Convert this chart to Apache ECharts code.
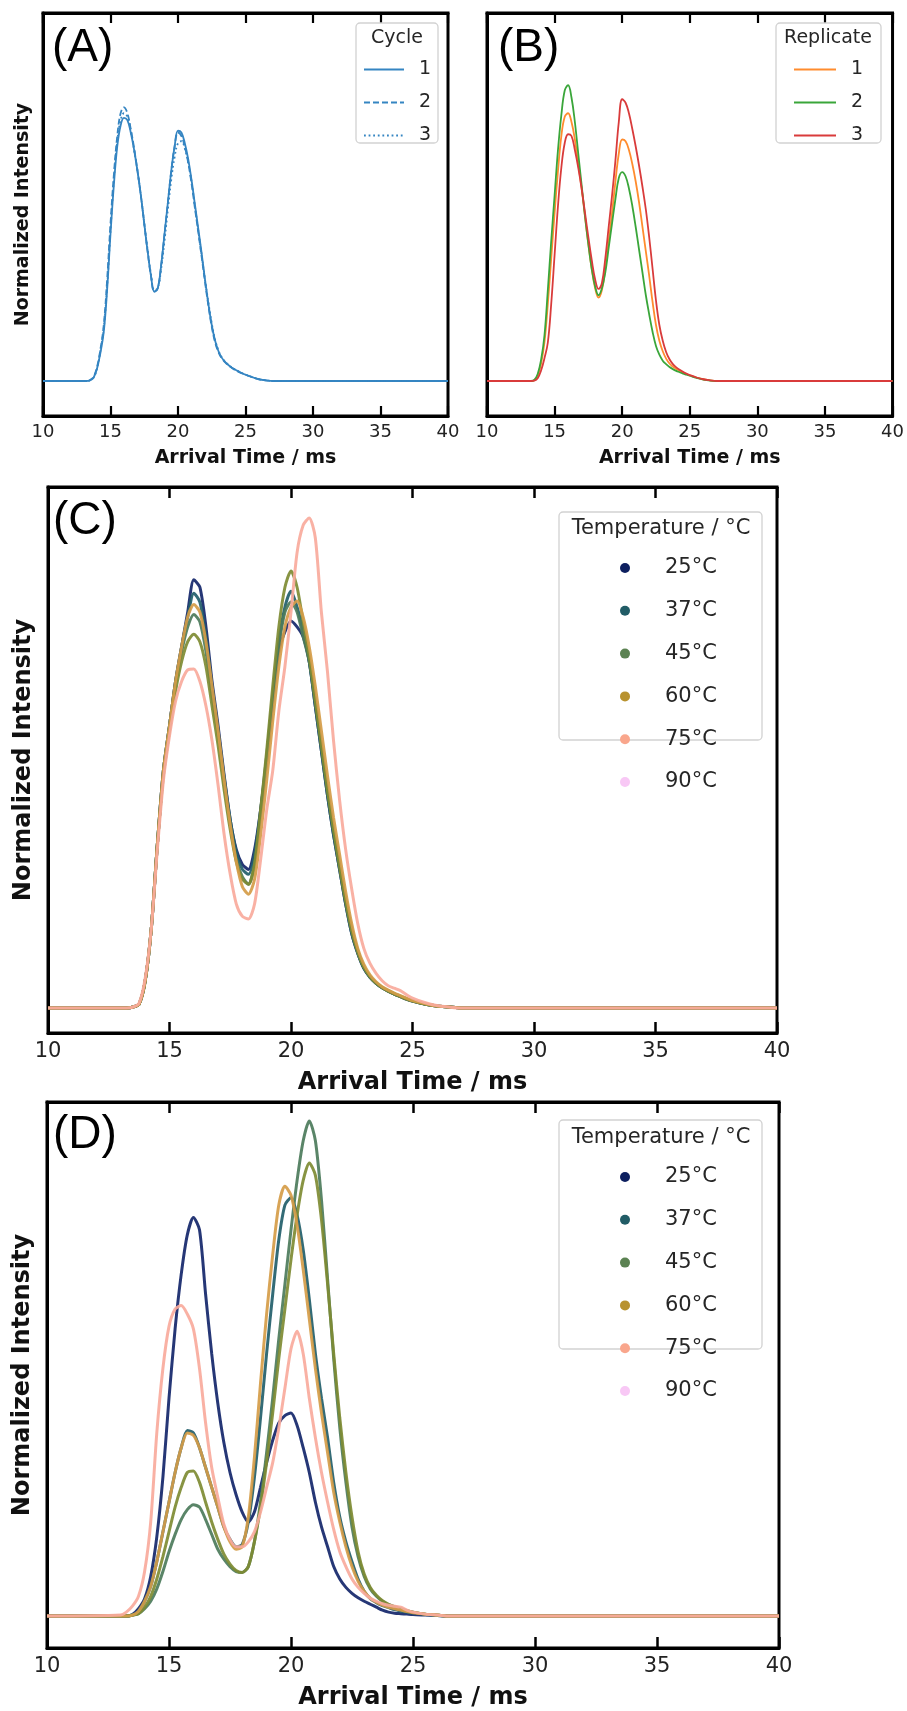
<!DOCTYPE html>
<html><head><meta charset="utf-8">
<script src="https://cdn.jsdelivr.net/npm/echarts@6/dist/echarts.min.js"></script>
<style>html,body{margin:0;padding:0;background:#fff}#c{width:907px;height:1711px}</style>
</head><body><div id="c"></div>
<script>
// Arrival time sample positions (ms)
const X = [10,13,13.25,13.5,13.75,14,14.25,14.5,14.75,15,15.25,15.5,15.75,16,16.25,16.5,16.75,17,17.25,17.5,17.75,18,18.25,18.5,18.75,19,19.25,19.5,19.75,20,20.25,20.5,20.75,21,21.25,21.5,21.75,22,22.25,22.5,22.75,23,23.25,23.5,23.75,24,24.25,24.5,24.75,25,25.5,26,26.5,27,40];
const xTickLabels = [10,15,20,25,30,35,40];
const cycleLabels = ['1','2','3'];
const replicateLabels = ['1','2','3'];
const tempLabels = ['25°C','37°C','45°C','60°C','75°C','90°C'];

// Panel A: cycles
const A1 = [0, 0,0,0.002,0.01, 0.035,0.08,0.14,0.26, 0.42,0.56,0.67,0.73, 0.752,0.745,0.71,0.66, 0.60,0.53,0.45,0.37, 0.30,0.255,0.265,0.33, 0.42,0.51,0.60,0.67, 0.715,0.71,0.68,0.635, 0.575,0.505,0.435,0.365, 0.29,0.22,0.16,0.115, 0.085,0.066,0.054,0.045, 0.038,0.032,0.027,0.022, 0.018,0.011,0.005,0.002,0, 0];
const A2 = [0, 0,0,0.003,0.012, 0.04,0.09,0.16,0.29, 0.45,0.59,0.70,0.765, 0.782,0.765,0.72,0.665, 0.60,0.53,0.45,0.37, 0.30,0.255,0.265,0.33, 0.42,0.51,0.60,0.67, 0.71,0.70,0.67,0.625, 0.565,0.495,0.425,0.355, 0.283,0.215,0.155,0.11, 0.082,0.064,0.053,0.044, 0.037,0.031,0.026,0.022, 0.018,0.011,0.005,0.002,0, 0];
const A3 = [0, 0,0,0.002,0.01, 0.035,0.085,0.15,0.27, 0.43,0.575,0.685,0.745, 0.765,0.755,0.715,0.66, 0.60,0.53,0.45,0.375, 0.305,0.26,0.265,0.32, 0.40,0.49,0.575,0.64, 0.68,0.685,0.665,0.625, 0.57,0.50,0.43,0.36, 0.29,0.225,0.165,0.118, 0.087,0.067,0.055,0.046, 0.038,0.032,0.027,0.022, 0.018,0.011,0.005,0.002,0, 0];

// Panel B: replicates
const B1 = [0, 0,0,0.002,0.015, 0.05,0.11,0.22,0.35, 0.48,0.60,0.70,0.755, 0.765,0.74,0.69,0.62, 0.55,0.47,0.39,0.32, 0.265,0.238,0.26,0.32, 0.40,0.48,0.57,0.65, 0.69,0.685,0.66,0.62, 0.57,0.51,0.44,0.37, 0.30,0.225,0.16,0.115, 0.085,0.064,0.05,0.041, 0.034,0.029,0.024,0.02, 0.016,0.01,0.005,0.002,0, 0];
const B2 = [0, 0,0,0.003,0.02, 0.06,0.13,0.26,0.40, 0.53,0.66,0.76,0.83, 0.845,0.81,0.74,0.65, 0.56,0.47,0.39,0.32, 0.27,0.245,0.265,0.31, 0.38,0.45,0.52,0.58, 0.597,0.585,0.55,0.50, 0.44,0.375,0.31,0.245, 0.19,0.14,0.10,0.075, 0.058,0.048,0.04,0.034, 0.029,0.025,0.021,0.018, 0.015,0.009,0.004,0.001,0, 0];
const B3 = [0, 0,0,0.001,0.008, 0.03,0.065,0.11,0.22, 0.36,0.50,0.61,0.68, 0.705,0.70,0.66,0.61, 0.55,0.48,0.41,0.345, 0.29,0.263,0.28,0.35, 0.44,0.53,0.63,0.74, 0.805,0.795,0.765,0.72, 0.67,0.615,0.555,0.49, 0.41,0.32,0.23,0.16, 0.115,0.083,0.062,0.048, 0.039,0.032,0.026,0.021, 0.017,0.01,0.005,0.002,0, 0];

// Panel C: temperatures
const C25 = [0, 0,0,0.002,0.008, 0.055,0.16,0.33,0.48, 0.57,0.66,0.73,0.80, 0.865,0.85,0.77,0.66, 0.57,0.47,0.38,0.32, 0.29,0.28,0.32,0.40, 0.50,0.62,0.72,0.76, 0.782,0.77,0.75,0.70, 0.61,0.52,0.43,0.35, 0.28,0.21,0.15,0.11, 0.08,0.062,0.05,0.041, 0.034,0.028,0.023,0.018, 0.014,0.008,0.004,0.002,0, 0];
const C37 = [0, 0,0,0.002,0.008, 0.055,0.16,0.33,0.48, 0.57,0.66,0.73,0.79, 0.838,0.82,0.75,0.65, 0.56,0.465,0.38,0.315, 0.28,0.27,0.31,0.40, 0.51,0.63,0.74,0.81, 0.842,0.81,0.76,0.70, 0.61,0.52,0.43,0.35, 0.28,0.21,0.15,0.11, 0.08,0.062,0.05,0.041, 0.034,0.028,0.023,0.018, 0.014,0.008,0.004,0.002,0, 0];
const C45 = [0, 0,0,0.002,0.008, 0.055,0.16,0.33,0.48, 0.57,0.655,0.72,0.77, 0.795,0.78,0.72,0.63, 0.55,0.455,0.37,0.30, 0.265,0.25,0.29,0.39, 0.50,0.62,0.73,0.80, 0.82,0.80,0.75,0.70, 0.62,0.53,0.44,0.36, 0.29,0.22,0.16,0.115, 0.083,0.064,0.051,0.042, 0.035,0.029,0.024,0.019, 0.015,0.008,0.004,0.002,0, 0];
const C60 = [0, 0,0,0.002,0.008, 0.055,0.16,0.33,0.47, 0.56,0.64,0.70,0.74, 0.755,0.74,0.69,0.61, 0.53,0.44,0.36,0.295, 0.26,0.25,0.29,0.40, 0.52,0.65,0.77,0.85, 0.883,0.85,0.78,0.71, 0.62,0.53,0.44,0.36, 0.285,0.215,0.155,0.112, 0.082,0.063,0.05,0.041, 0.034,0.028,0.023,0.018, 0.014,0.008,0.004,0.002,0, 0];
const C75 = [0, 0,0,0.002,0.008, 0.055,0.16,0.33,0.48, 0.57,0.66,0.73,0.79, 0.815,0.80,0.74,0.65, 0.56,0.46,0.37,0.295, 0.245,0.23,0.26,0.35, 0.46,0.58,0.69,0.77, 0.81,0.822,0.79,0.73, 0.65,0.56,0.47,0.385, 0.31,0.235,0.17,0.12, 0.088,0.067,0.053,0.043, 0.036,0.03,0.025,0.02, 0.015,0.009,0.004,0.002,0, 0];
const C90 = [0, 0,0,0.002,0.01, 0.06,0.16,0.32,0.46, 0.55,0.62,0.66,0.683, 0.685,0.66,0.61,0.54, 0.45,0.35,0.27,0.21, 0.185,0.18,0.21,0.30, 0.40,0.48,0.60,0.69, 0.80,0.92,0.975,0.99, 0.95,0.80,0.68,0.54, 0.42,0.32,0.24,0.17, 0.12,0.09,0.07,0.055, 0.045,0.04,0.035,0.027, 0.02,0.011,0.005,0.002,0, 0];

// Panel D: temperatures
const D25 = [0, 0,0,0.003,0.015, 0.035,0.08,0.16,0.28, 0.44,0.58,0.69,0.77, 0.805,0.78,0.65,0.53, 0.43,0.35,0.29,0.245, 0.21,0.19,0.21,0.26, 0.31,0.355,0.39,0.405, 0.41,0.385,0.34,0.29, 0.23,0.18,0.14,0.10, 0.075,0.058,0.046,0.037, 0.03,0.024,0.018,0.012, 0.008,0.006,0.005,0.004, 0.003,0.002,0.001,0,0, 0];
const D37 = [0, 0,0,0.002,0.01, 0.03,0.06,0.11,0.17, 0.23,0.29,0.34,0.375, 0.37,0.34,0.30,0.26, 0.22,0.18,0.155,0.14, 0.145,0.19,0.28,0.40, 0.53,0.65,0.76,0.83, 0.845,0.81,0.74,0.64, 0.53,0.44,0.36,0.27, 0.20,0.15,0.11,0.075, 0.05,0.035,0.027,0.021, 0.017,0.013,0.01,0.008, 0.006,0.003,0.001,0,0, 0];
const D45 = [0, 0,0,0.002,0.005, 0.015,0.03,0.055,0.09, 0.13,0.165,0.195,0.215, 0.225,0.22,0.195,0.165, 0.135,0.115,0.10,0.09, 0.088,0.10,0.15,0.23, 0.33,0.44,0.56,0.67, 0.78,0.88,0.96,1.0, 0.96,0.84,0.68,0.52, 0.38,0.27,0.18,0.12, 0.08,0.055,0.04,0.03, 0.023,0.018,0.014,0.011, 0.008,0.004,0.002,0,0, 0];
const D60 = [0, 0,0,0.002,0.005, 0.018,0.04,0.075,0.12, 0.17,0.22,0.26,0.29, 0.293,0.27,0.23,0.19, 0.155,0.125,0.105,0.092, 0.088,0.10,0.15,0.22, 0.31,0.41,0.52,0.62, 0.72,0.81,0.88,0.915, 0.89,0.80,0.67,0.53, 0.40,0.29,0.20,0.13, 0.085,0.058,0.042,0.031, 0.024,0.019,0.015,0.011, 0.008,0.004,0.002,0,0, 0];
const D75 = [0, 0,0,0.002,0.01, 0.03,0.06,0.11,0.17, 0.23,0.29,0.34,0.37, 0.365,0.34,0.30,0.26, 0.22,0.18,0.15,0.135, 0.14,0.20,0.32,0.47, 0.61,0.73,0.83,0.868, 0.85,0.79,0.70,0.60, 0.50,0.41,0.33,0.25, 0.19,0.14,0.10,0.07, 0.05,0.036,0.028,0.022, 0.018,0.015,0.012,0.009, 0.007,0.004,0.002,0,0, 0];
const D90 = [0, 0.002,0.008,0.02,0.04, 0.09,0.19,0.37,0.50, 0.585,0.62,0.627,0.61, 0.58,0.50,0.39,0.30, 0.24,0.185,0.155,0.14, 0.14,0.15,0.17,0.21, 0.26,0.31,0.38,0.46, 0.54,0.575,0.53,0.44, 0.36,0.29,0.23,0.175, 0.13,0.10,0.075,0.058, 0.046,0.036,0.03,0.025, 0.022,0.02,0.018,0.012, 0.008,0.004,0.002,0,0, 0];

const cycleData = [A1, A2, A3];
const replicateData = [B1, B2, B3];
const tempDataC = [C25, C37, C45, C60, C75, C90];
const tempDataD = [D25, D37, D45, D60, D75, D90];

const cycleColor = '#3585c2';
const cycleDash = ['solid', [6, 3], [1.8, 2.8]];
const replicateColors = ['#ff8c2e', '#3aa63a', '#d93b3b'];
const tempLineColors = ['#13266a', '#225e6a', '#4c7b5b', '#7e8b33', '#d59c48', '#f8aa9c'];
const tempLegendColors = ['#0d1f5f', '#215c66', '#5b8252', '#b8922f', '#f9a68c', '#f8c8f5'];

const FONT = 'DejaVu Sans';
const grids = [
  {left: 43, top: 13, width: 405, height: 403},
  {left: 487, top: 13, width: 406, height: 403},
  {left: 48, top: 487, width: 729, height: 546},
  {left: 47, top: 1102, width: 732, height: 548}
].map(g => Object.assign({show: true, borderColor: '#000', borderWidth: 3, backgroundColor: 'transparent'}, g));

const yRange = [[-0.1, 1.0514], [-0.1, 1.0514], [-0.0505, 1.0525], [-0.0644, 1.0382]];
const big = [false, false, true, true];

const xAxis = [];
const yAxis = [];
grids.forEach((g, i) => {
  const b = big[i];
  const mkTick = () => ({show: true, inside: true, length: b ? 11 : 10, lineStyle: {color: '#000', width: b ? 2.5 : 2.2}});
  const mkLine = () => ({show: true, onZero: false, lineStyle: {color: '#000', width: 3}});
  xAxis.push({
    gridIndex: i, type: 'value', min: xTickLabels[0], max: xTickLabels[xTickLabels.length - 1], interval: 5,
    position: 'bottom',
    axisLine: mkLine(),
    axisTick: mkTick(),
    axisLabel: {fontSize: b ? 21 : 18, color: '#222', margin: b ? 8 : 7, fontFamily: FONT},
    splitLine: {show: false},
    name: 'Arrival Time / ms', nameLocation: 'middle', nameGap: b ? 38 : 33,
    nameTextStyle: {fontSize: b ? 24 : 19, fontWeight: 'bold', fontFamily: FONT, color: '#111'}
  });
  xAxis.push({
    gridIndex: i, type: 'value', min: xTickLabels[0], max: xTickLabels[xTickLabels.length - 1], interval: 5,
    position: 'top',
    axisLine: mkLine(),
    axisTick: mkTick(),
    axisLabel: {show: false}, splitLine: {show: false}
  });
  yAxis.push({
    gridIndex: i, type: 'value', min: yRange[i][0], max: yRange[i][1], position: 'left',
    axisLine: mkLine(), axisTick: {show: false}, axisLabel: {show: false}, splitLine: {show: false},
    name: i === 1 ? '' : 'Normalized Intensity', nameLocation: 'middle', nameRotate: 90, nameGap: b ? 12 : 10,
    nameTextStyle: {fontSize: b ? 24 : 19, fontWeight: 'bold', fontFamily: FONT, color: '#111'}
  });
});

function pts(arr) { return X.map((x, i) => [x, arr[i]]); }

const series = [];
cycleData.forEach((d, k) => series.push({
  type: 'line', name: 'Cycle ' + cycleLabels[k], xAxisIndex: 0, yAxisIndex: 0, data: pts(d),
  symbol: 'none', showSymbol: false, smooth: 0.4,
  lineStyle: {color: cycleColor, width: 1.8, type: cycleDash[k]}, itemStyle: {color: cycleColor, opacity: 0}
}));
replicateData.forEach((d, k) => series.push({
  type: 'line', name: 'Replicate ' + replicateLabels[k], xAxisIndex: 2, yAxisIndex: 1, data: pts(d),
  symbol: 'none', showSymbol: false, smooth: 0.4,
  lineStyle: {color: replicateColors[k], width: 1.8}, itemStyle: {color: replicateColors[k], opacity: 0}
}));
tempDataC.forEach((d, k) => series.push({
  type: 'line', name: 'C ' + tempLabels[k], xAxisIndex: 4, yAxisIndex: 2, data: pts(d),
  symbol: 'none', showSymbol: false, smooth: 0.25,
  lineStyle: {color: tempLineColors[k], width: 3, opacity: 0.92}, itemStyle: {color: tempLegendColors[k]}
}));
tempDataD.forEach((d, k) => series.push({
  type: 'line', name: 'D ' + tempLabels[k], xAxisIndex: 6, yAxisIndex: 3, data: pts(d),
  symbol: 'none', showSymbol: false, smooth: 0.25,
  lineStyle: {color: tempLineColors[k], width: 3, opacity: 0.92}, itemStyle: {color: tempLegendColors[k]}
}));

const legTextSmall = {fontSize: 19, color: '#262626', fontFamily: FONT, lineHeight: 14, padding: [0, 0, 0, 10]};
const legTextBig = {fontSize: 21, color: '#262626', fontFamily: FONT, lineHeight: 10, padding: [0, 0, 0, 30]};
const legend = [
  {data: cycleLabels.map(c => 'Cycle ' + c), orient: 'vertical', left: 363, top: 60, itemWidth: 40, itemHeight: 14, itemGap: 14,
   formatter: n => n.replace('Cycle ', ''), textStyle: legTextSmall, itemStyle: {opacity: 0}, selectedMode: false, padding: 0},
  {data: replicateLabels.map(c => 'Replicate ' + c), orient: 'vertical', left: 793, top: 60, itemWidth: 42, itemHeight: 14, itemGap: 14,
   formatter: n => n.replace('Replicate ', ''), textStyle: legTextSmall, itemStyle: {opacity: 0}, selectedMode: false, padding: 0},
  {data: tempLabels.map((t, k) => ({name: 'C ' + t, icon: 'circle', itemStyle: {color: tempLegendColors[k], opacity: 1}})),
   orient: 'vertical', left: 620, top: 557.5, itemWidth: 10, itemHeight: 10, itemGap: 21.8,
   formatter: n => n.slice(2), textStyle: legTextBig, selectedMode: false, padding: 0},
  {data: tempLabels.map((t, k) => ({name: 'D ' + t, icon: 'circle', itemStyle: {color: tempLegendColors[k], opacity: 1}})),
   orient: 'vertical', left: 620, top: 1166.5, itemWidth: 10, itemHeight: 10, itemGap: 21.8,
   formatter: n => n.slice(2), textStyle: legTextBig, selectedMode: false, padding: 0}
];

function box(x, y, w, h) {
  return {type: 'rect', z: 3, shape: {x: x, y: y, width: w, height: h, r: 4},
    style: {fill: 'rgba(255,255,255,0.85)', stroke: '#d2d2d2', lineWidth: 1.3}};
}
function txt(s, x, y, size, family, align, color) {
  return {type: 'text', z: 5, x: x, y: y,
    style: {text: s, fontSize: size, fontFamily: family, fill: color || '#262626',
      align: align, verticalAlign: 'middle', textAlign: align, textVerticalAlign: 'middle'}};
}
const graphic = [
  box(356, 23, 82, 120), txt('Cycle', 397, 38, 19, FONT, 'center'),
  box(776, 23, 105, 120), txt('Replicate', 828, 38, 19, FONT, 'center'),
  box(559, 512, 203, 228), txt('Temperature / °C', 661, 529, 21, FONT, 'center'),
  box(559, 1120, 203, 229), txt('Temperature / °C', 661, 1138, 21, FONT, 'center'),
  txt('(A)', 52, 48, 46, 'Liberation Sans', 'left', '#000'),
  txt('(B)', 498, 48, 46, 'Liberation Sans', 'left', '#000'),
  txt('(C)', 53, 521, 46, 'Liberation Sans', 'left', '#000'),
  txt('(D)', 53, 1135, 46, 'Liberation Sans', 'left', '#000')
];

const chart = echarts.init(document.getElementById('c'), null, {renderer: 'canvas'});
chart.setOption({
  animation: false,
  backgroundColor: '#fff',
  textStyle: {fontFamily: FONT},
  grid: grids, xAxis: xAxis, yAxis: yAxis, series: series, legend: legend, graphic: graphic
});
</script>
</body></html>
